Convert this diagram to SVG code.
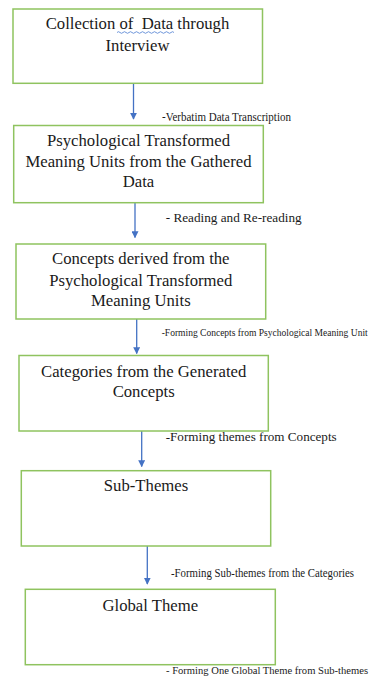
<svg xmlns="http://www.w3.org/2000/svg" width="370" height="678" viewBox="0 0 370 678" font-family="'Liberation Serif', 'Times New Roman', Times, serif">
<defs>
<style>
.box{fill:#ffffff;stroke:#8fc35f;stroke-width:1.5}
.t{font-size:16.7px;fill:#1a1a1a;text-anchor:middle}
.l{fill:#1a1a1a}
.c{stroke:#4472c4;stroke-width:1.3;fill:none}
</style>
<marker id="ah" viewBox="0 0 10 10" refX="9" refY="5" markerWidth="7" markerHeight="7" markerUnits="userSpaceOnUse" orient="auto">
<path d="M0,0 L10,5 L0,10 z" fill="#4472c4"/>
</marker>
</defs>
<rect width="370" height="678" fill="#ffffff"/>
<g id="connectors">
<line class="c" x1="133.5" y1="83.5" x2="133.5" y2="119" marker-end="url(#ah)"/>
<line class="c" x1="135" y1="203" x2="135" y2="237.5" marker-end="url(#ah)"/>
<line class="c" x1="136.7" y1="319" x2="136.7" y2="353.5" marker-end="url(#ah)"/>
<line class="c" x1="141.7" y1="431" x2="141.7" y2="466.5" marker-end="url(#ah)"/>
<line class="c" x1="147.3" y1="546" x2="147.3" y2="584" marker-end="url(#ah)"/>
<text class="l" x="162" y="121" font-size="12" textLength="129" lengthAdjust="spacingAndGlyphs">-Verbatim Data Transcription</text>
<text class="l" x="165.7" y="221.5" font-size="13.3" textLength="136" lengthAdjust="spacingAndGlyphs">- Reading and Re-reading</text>
<text class="l" x="161.7" y="336" font-size="9.6" textLength="206" lengthAdjust="spacingAndGlyphs">-Forming Concepts from Psychological Meaning Unit</text>
<text class="l" x="165.7" y="440.5" font-size="13.2" textLength="171" lengthAdjust="spacingAndGlyphs">-Forming themes from Concepts</text>
<text class="l" x="171" y="576.7" font-size="11.6" textLength="183" lengthAdjust="spacingAndGlyphs">-Forming Sub-themes from the Categories</text>
<text class="l" x="166" y="674" font-size="10.6" textLength="202" lengthAdjust="spacingAndGlyphs">- Forming One Global Theme from Sub-themes</text>
</g>
<g id="n1">
<rect class="box" x="13" y="9" width="249.5" height="74.3"/>
<text class="t" x="137.5" y="29.3" xml:space="preserve">Collection of  Data through</text>
<text class="t" x="137.5" y="50.5">Interview</text>
<path d="M117,32.5 q1.5,-1.6 3,0 t3,0 t3,0 t3,0 t3,0 t3,0 t3,0 t3,0 t3,0 t3,0 t3,0 t3,0 t3,0 t3,0 t3,0 t3,0 t3,0 t3,0 t3,0" fill="none" stroke="#4a7bd0" stroke-width="0.8"/>
</g>
<g id="n2">
<rect class="box" x="13.7" y="125.5" width="249.6" height="77.2"/>
<text class="t" x="138.5" y="146">Psychological Transformed</text>
<text class="t" x="138.5" y="166.7">Meaning Units from the Gathered</text>
<text class="t" x="138.5" y="186.9">Data</text>
</g>
<g id="n3">
<rect class="box" x="16" y="244" width="249.7" height="75"/>
<text class="t" x="140.8" y="264">Concepts derived from the</text>
<text class="t" x="140.8" y="285.5">Psychological Transformed</text>
<text class="t" x="140.8" y="305.7">Meaning Units</text>
</g>
<g id="n4">
<rect class="box" x="19" y="355.5" width="249.3" height="75.5"/>
<text class="t" x="143.7" y="376.7">Categories from the Generated</text>
<text class="t" x="143.7" y="396.9">Concepts</text>
</g>
<g id="n5">
<rect class="box" x="21.3" y="470.7" width="249.4" height="75.3"/>
<text class="t" x="146" y="491">Sub-Themes</text>
</g>
<g id="n6">
<rect class="box" x="25.3" y="589.3" width="250" height="75.4"/>
<text class="t" x="150.3" y="610.7">Global Theme</text>
</g>
</svg>
